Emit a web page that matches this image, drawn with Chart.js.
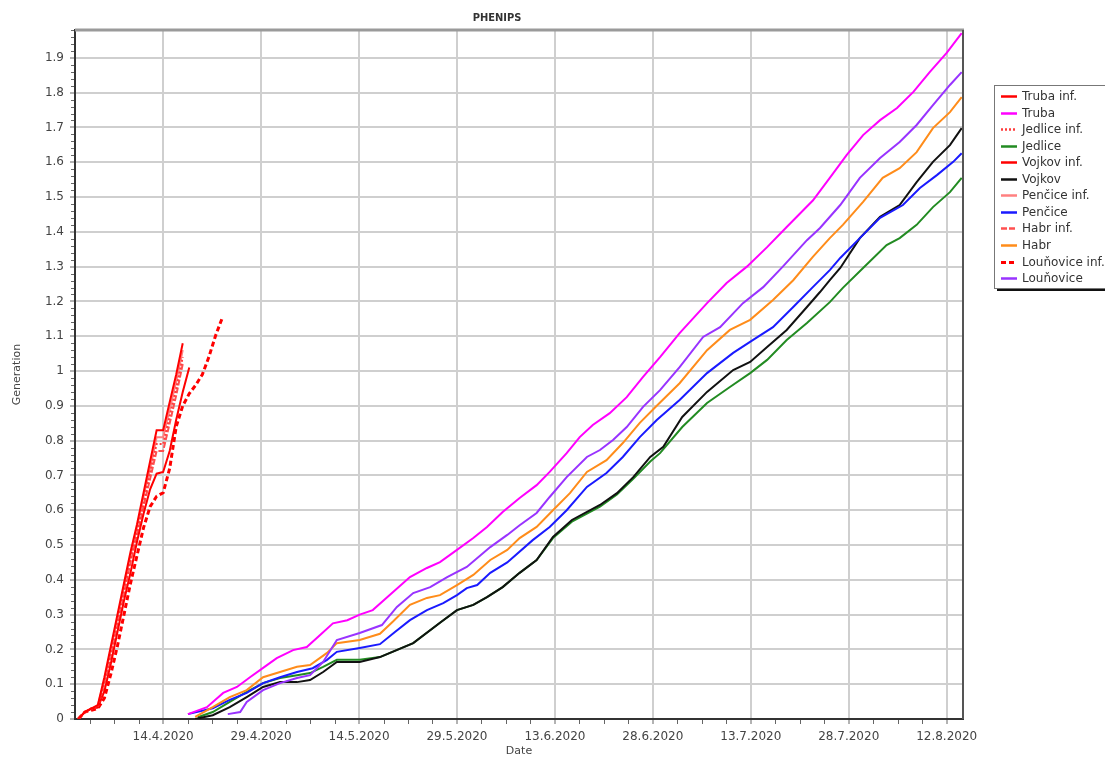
<!DOCTYPE html>
<html><head><meta charset="utf-8">
<script src="https://cdn.jsdelivr.net/npm/chart.js@4.4.1/dist/chart.umd.min.js"></script>
<style>html,body{margin:0;padding:0;background:#fff;}#wrap{width:1105px;height:758px;}</style>
</head><body><div id="wrap"><canvas id="c" width="1105" height="758"></canvas></div>
<script>
// Day 0 = 1.4.2020
const xMajorDays = [13, 28, 43, 58, 73, 88, 103, 118, 133];
const yMajorTicks = [0,0.1,0.2,0.3,0.4,0.5,0.6,0.7,0.8,0.9,1,1.1,1.2,1.3,1.4,1.5,1.6,1.7,1.8,1.9];

const trubaInf = [[0,0],[1,.02],[2,.03],[3,.04],[4,.12],[5,.21],[6,.30],[7,.39],[8,.48],[9,.56],[10,.65],[11,.74],[12,.83],[13,.83],[14,.91],[15,.99],[16,1.08]];
const jedliceInf = [[0,0],[1,.02],[2,.03],[3,.035],[4,.10],[5,.19],[6,.28],[7,.37],[8,.46],[9,.54],[10,.62],[11,.71],[12,.79],[13,.79],[14,.87],[15,.95],[16,1.04]];
const vojkovInf = [[0,0],[1,.02],[2,.03],[3,.033],[4,.08],[5,.16],[6,.25],[7,.34],[8,.42],[9,.51],[10,.59],[11,.66],[12,.705],[13,.71],[14,.77],[15,.86],[16,.94],[17,1.01]];
const pencicInf = [[0,0],[1,.02],[2,.03],[3,.04],[4,.11],[5,.20],[6,.29],[7,.38],[8,.47],[9,.55],[10,.64],[11,.72],[12,.81],[13,.81],[14,.89],[15,.97],[16,1.06]];
const habrInf = [[0,0],[1,.02],[2,.03],[3,.035],[4,.10],[5,.18],[6,.27],[7,.36],[8,.45],[9,.53],[10,.61],[11,.69],[12,.77],[13,.77],[14,.85],[15,.93],[16,1.02]];
const lounoviceInf = [[0,0],[1,.02],[2,.025],[3,.03],[4,.06],[5,.13],[6,.21],[7,.30],[8,.39],[9,.47],[10,.55],[11,.61],[12,.64],[13,.65],[14,.72],[15,.84],[16,.90],[17,.935],[18,.96],[19,.99],[20,1.04],[21,1.10],[22,1.15]];

const truba = [[16.8,.014],[19.7,.034],[22.2,.075],[24.3,.092],[26.3,.12],[28.9,.155],[30.4,.175],[32.9,.198],[35.0,.207],[37.0,.241],[39.0,.275],[41.2,.284],[43.1,.30],[45.1,.313],[47.7,.356],[50.8,.408],[53.4,.434],[55.4,.451],[58.0,.486],[60.5,.52],[62.6,.552],[65.0,.595],[67.6,.635],[70.2,.672],[72.2,.71],[74.8,.764],[76.8,.81],[78.8,.845],[81.4,.879],[84.0,.925],[86.5,.983],[89.1,1.04],[92.1,1.109],[96.3,1.195],[99.3,1.253],[102.4,1.30],[105.5,1.356],[108.5,1.414],[112.5,1.49],[115.1,1.555],[117.7,1.621],[120.2,1.678],[122.8,1.721],[125.4,1.756],[127.9,1.802],[130.4,1.859],[133.0,1.914],[135.3,1.971]];
const lounovice = [[22.9,.014],[24.8,.02],[25.8,.049],[28.3,.083],[30.9,.103],[33.5,.118],[35.5,.126],[37.5,.164],[39.6,.227],[43.1,.247],[46.5,.27],[48.8,.322],[51.3,.362],[53.9,.379],[56.5,.408],[59.5,.437],[63.1,.494],[65.7,.529],[67.6,.557],[70.2,.592],[72.2,.638],[74.8,.695],[77.9,.753],[79.9,.773],[81.9,.802],[84.0,.839],[86.5,.897],[89.1,.945],[92.1,1.011],[95.7,1.098],[98.3,1.126],[101.8,1.195],[104.9,1.241],[107.9,1.30],[111.6,1.376],[113.6,1.411],[116.7,1.477],[119.7,1.555],[122.8,1.612],[125.8,1.658],[128.4,1.707],[130.9,1.764],[133.5,1.822],[135.3,1.859]];
const habr = [[17.9,.006],[20.6,.034],[23.2,.063],[25.8,.083],[28.3,.12],[30.9,.135],[33.5,.15],[35.5,.155],[38.1,.19],[39.6,.218],[43.1,.227],[46.2,.245],[48.2,.28],[50.8,.328],[53.4,.348],[55.4,.356],[58.0,.385],[60.5,.414],[63.1,.457],[65.7,.486],[67.6,.52],[70.2,.552],[72.7,.60],[75.3,.649],[77.9,.71],[80.9,.744],[83.4,.793],[86.0,.851],[88.6,.90],[92.1,.965],[96.3,1.06],[99.8,1.118],[102.9,1.147],[106.4,1.204],[109.5,1.261],[112.5,1.328],[115.1,1.382],[117.1,1.42],[120.2,1.486],[123.2,1.555],[125.8,1.583],[128.4,1.629],[130.9,1.698],[133.5,1.744],[135.3,1.787]];
const pencice = [[16.8,.014],[20.6,.031],[23.2,.055],[25.8,.075],[28.3,.103],[30.9,.12],[33.5,.135],[35.9,.146],[38.1,.17],[39.6,.193],[43.1,.204],[46.2,.215],[48.5,.25],[50.8,.284],[53.4,.313],[55.9,.333],[58.0,.356],[59.5,.376],[61.1,.385],[63.1,.42],[65.7,.45],[69.6,.514],[72.2,.552],[74.8,.60],[77.9,.667],[80.9,.707],[83.4,.753],[86.0,.81],[88.6,.859],[92.1,.917],[96.3,.994],[100.3,1.052],[103.3,1.089],[106.4,1.126],[109.5,1.184],[112.5,1.241],[115.1,1.29],[116.7,1.325],[119.7,1.382],[122.8,1.44],[126.3,1.477],[128.9,1.526],[131.5,1.563],[134.0,1.601],[135.3,1.626]];
const vojkov = [[17.9,0],[20.6,.011],[23.2,.034],[25.8,.063],[28.3,.092],[30.9,.106],[33.5,.106],[35.5,.112],[37.5,.135],[39.6,.164],[43.1,.164],[46.2,.178],[51.3,.218],[55.5,.278],[58.0,.313],[60.5,.328],[62.6,.35],[65.0,.379],[67.6,.42],[70.2,.457],[72.7,.523],[75.6,.572],[79.9,.615],[82.5,.649],[85.0,.695],[87.6,.753],[89.6,.782],[92.5,.868],[96.3,.94],[100.3,1.003],[102.9,1.026],[105.5,1.069],[108.5,1.118],[111.6,1.184],[113.6,1.227],[115.1,1.261],[116.7,1.296],[119.7,1.382],[122.8,1.443],[125.8,1.477],[128.4,1.543],[130.9,1.601],[133.5,1.649],[135.3,1.698]];
const jedlice = [[18.3,.005],[20.6,.02],[23.2,.049],[25.8,.078],[28.3,.103],[30.9,.118],[33.5,.126],[35.5,.132],[37.5,.15],[39.6,.17],[43.1,.17],[46.2,.178],[51.3,.218],[55.5,.278],[58.0,.313],[60.5,.328],[62.6,.35],[65.0,.379],[67.6,.42],[70.2,.457],[72.7,.52],[75.6,.567],[79.9,.61],[82.5,.645],[85.0,.69],[87.6,.74],[89.1,.764],[92.5,.839],[96.3,.908],[99.8,.954],[102.9,.994],[105.5,1.032],[108.5,1.089],[111.6,1.138],[115.1,1.198],[117.1,1.239],[120.2,1.296],[123.8,1.362],[125.8,1.382],[128.4,1.42],[130.9,1.471],[133.5,1.514],[135.3,1.555]];

const FONT = '"DejaVu Sans", Verdana, sans-serif';
const toPts = arr => arr.map(p => ({x: p[0], y: p[1]}));
function ds(label, arr, color, width, dash, order){
  return {label, data: toPts(arr), borderColor: color, backgroundColor: color, borderWidth: width, borderDash: dash || [], order, fill: false, pointRadius: 0, tension: 0};
}
const datasets = [
  ds('Truba inf.', trubaInf, '#ff0000', 2, null, 0),
  ds('Truba', truba, '#ff00ff', 2, null, 1),
  ds('Jedlice inf.', jedliceInf, '#ff3c3c', 2, [2,2], 0),
  ds('Jedlice', jedlice, '#228b22', 2, null, 6),
  ds('Vojkov inf.', vojkovInf, '#ff0000', 2, null, 0),
  ds('Vojkov', vojkov, '#111111', 2, null, 5),
  ds('Penčice inf.', pencicInf, '#ff8080', 2, null, 0),
  ds('Penčice', pencice, '#1a1aff', 2, null, 4),
  ds('Habr inf.', habrInf, '#ff5050', 2, [6,2], 0),
  ds('Habr', habr, '#ff8c1a', 2, null, 3),
  ds('Louňovice inf.', lounoviceInf, '#ff0000', 3, [5,3], 0),
  ds('Louňovice', lounovice, '#9933ff', 2, null, 2)
];

function dayLabel(d){
  const dt = new Date(2020, 3, 1 + Math.round(d));
  return dt.getDate() + '.' + (dt.getMonth()+1) + '.' + dt.getFullYear();
}

const decor = {
  id: 'decor',
  afterDraw(chart){
    const ctx = chart.ctx, a = chart.chartArea, xs = chart.scales.x, ys = chart.scales.y;
    const line = (x1,y1,x2,y2) => { ctx.beginPath(); ctx.moveTo(x1,y1); ctx.lineTo(x2,y2); ctx.stroke(); };
    ctx.save();
    ctx.setLineDash([]);
    ctx.strokeStyle = '#9a9a9a'; ctx.lineWidth = 3; line(a.left, a.top, a.right+1, a.top);
    ctx.strokeStyle = '#555'; ctx.lineWidth = 2; line(a.right, a.top, a.right, a.bottom);
    // minor ticks
    ctx.strokeStyle = '#666'; ctx.lineWidth = 1;
    for (let k = -3; k < 40; k++) {
      const d = 13 + k * 3.75;
      if (d < xs.min || d > xs.max) continue;
      if (k % 4 === 0) continue;
      const px = Math.round(xs.getPixelForValue(d)) + 0.5;
      line(px, a.bottom + 1, px, a.bottom + 5);
    }
    for (let k = 0; k <= 99; k++) {
      const v = k * 0.02;
      if (v > ys.max) break;
      if (k % 5 === 0) continue;
      const py = Math.round(ys.getPixelForValue(v)) + 0.5;
      line(a.left - 4, py, a.left - 1, py);
    }
    // title
    ctx.fillStyle = '#333';
    ctx.font = 'bold 11px "DejaVu Sans Condensed", "DejaVu Sans", sans-serif';
    ctx.textAlign = 'center'; ctx.textBaseline = 'middle';
    ctx.fillText('PHENIPS', 497, 18);
    // legend
    const lx = 994, ly = 85, lw = 125, lh = 203;
    ctx.fillStyle = '#111'; ctx.fillRect(lx + 3, ly + lh, lw, 3);
    ctx.fillStyle = '#fff'; ctx.fillRect(lx, ly, lw, lh);
    ctx.strokeStyle = '#777'; ctx.lineWidth = 1; ctx.strokeRect(lx + 0.5, ly + 0.5, lw, lh);
    ctx.font = '12px ' + FONT; ctx.textAlign = 'left'; ctx.textBaseline = 'middle';
    chart.data.datasets.forEach((d, i) => {
      const y = Math.round(96 + i * 16.55) + 0.5;
      ctx.strokeStyle = d.borderColor; ctx.lineWidth = Math.min(d.borderWidth + 0.5, 3);
      ctx.setLineDash(d.borderDash || []);
      line(1001, y, 1017, y);
      ctx.setLineDash([]);
      ctx.fillStyle = '#333';
      ctx.fillText(d.label, 1022, y);
    });
    ctx.restore();
  }
};

new Chart(document.getElementById('c'), {
  type: 'line',
  data: { datasets },
  options: {
    responsive: false, animation: false, devicePixelRatio: 1,
    layout: { padding: { left: 0, right: 142, top: 30, bottom: 0 } },
    plugins: { legend: { display: false }, title: { display: false }, tooltip: { enabled: false } },
    elements: { point: { radius: 0 }, line: { tension: 0 } },
    scales: {
      x: {
        type: 'linear', min: -0.5, max: 135.5,
        afterBuildTicks: s => { s.ticks = xMajorDays.map(v => ({ value: v })); },
        afterFit: s => { s.height = 39; },
        ticks: { callback: v => dayLabel(v), maxRotation: 0, autoSkip: false, font: { family: FONT, size: 12 }, color: '#444', padding: 6 },
        grid: { color: '#cfcfcf', lineWidth: 2, tickLength: 5, tickColor: '#666', tickWidth: 1 },
        border: { color: '#333', width: 2 },
        title: { display: true, text: 'Date', font: { family: FONT, size: 11 }, color: '#444', padding: { top: 0, bottom: 0 } }
      },
      y: {
        type: 'linear', min: 0, max: 1.98,
        afterBuildTicks: s => { s.ticks = yMajorTicks.map(v => ({ value: v })); },
        afterFit: s => { s.width = 75; },
        ticks: { callback: v => String(Number(v.toFixed(1))), autoSkip: false, font: { family: FONT, size: 12 }, color: '#444', padding: 6 },
        grid: { color: '#cfcfcf', lineWidth: 2, tickLength: 5, tickColor: '#666', tickWidth: 1 },
        border: { color: '#333', width: 2 },
        title: { display: true, text: 'Generation', font: { family: FONT, size: 11 }, color: '#444', padding: { top: 11, bottom: 0 } }
      }
    }
  },
  plugins: [decor]
});
</script></body></html>
